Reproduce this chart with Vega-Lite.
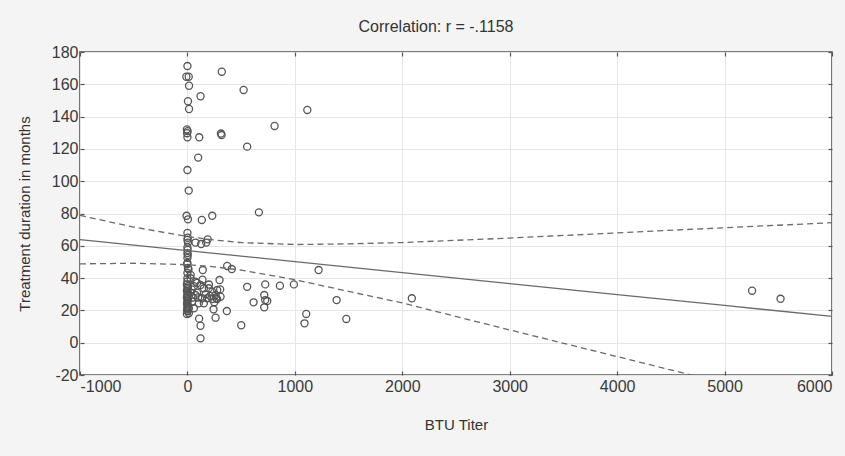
{
  "$schema": "https://vega.github.io/schema/vega-lite/v6.json",
  "width": 752,
  "height": 323,
  "autosize": {"type": "none"},
  "padding": {"left": 80, "top": 52, "right": 13, "bottom": 81},
  "background": "#f4f4f4",
  "title": {
    "text": "Correlation: r = -.1158",
    "font": "Liberation Sans",
    "fontSize": 16,
    "fontWeight": "normal",
    "color": "#333333",
    "offset": 9,
    "dx": -20
  },
  "config": {
    "view": {"fill": "#ffffff", "stroke": "#555555", "strokeWidth": 1.6},
    "axis": {
      "labelFont": "Liberation Sans",
      "titleFont": "Liberation Sans",
      "labelFontSize": 16,
      "titleFontSize": 15,
      "titleFontWeight": "normal",
      "labelColor": "#3a3a3a",
      "titleColor": "#333333",
      "labelExpr": "'' + datum.value",
      "domain": false,
      "tickColor": "#555555",
      "tickSize": -4,
      "tickWidth": 1.2,
      "gridColor": "#e6e6e6",
      "gridWidth": 1
    }
  },
  "datasets": {
    "titer": [
      {"btu": 0, "months": 171.3}, {"btu": 320, "months": 167.8}, {"btu": -10, "months": 164.7},
      {"btu": 12, "months": 164.7}, {"btu": 15, "months": 159.1}, {"btu": 523, "months": 156.5},
      {"btu": 122, "months": 152.6}, {"btu": 5, "months": 149.5}, {"btu": 15, "months": 144.7},
      {"btu": 1116, "months": 144.1}, {"btu": 811, "months": 134.2}, {"btu": -5, "months": 132.1},
      {"btu": 2, "months": 131}, {"btu": -3, "months": 129.7}, {"btu": 0, "months": 127.2},
      {"btu": 110, "months": 127.2}, {"btu": 312, "months": 129.5}, {"btu": 318, "months": 128.6},
      {"btu": 556, "months": 121.4}, {"btu": 100, "months": 114.6}, {"btu": 0, "months": 106.9},
      {"btu": 12, "months": 94.2}, {"btu": 665, "months": 80.7}, {"btu": -8, "months": 78.6},
      {"btu": 5, "months": 76.4}, {"btu": 134, "months": 76}, {"btu": 231, "months": 78.6},
      {"btu": 0, "months": 68}, {"btu": 3, "months": 65}, {"btu": 0, "months": 63.6},
      {"btu": 5, "months": 62}, {"btu": 0, "months": 59}, {"btu": 2, "months": 57.4},
      {"btu": 0, "months": 55.5}, {"btu": 3, "months": 54.3}, {"btu": 0, "months": 52.5},
      {"btu": 0, "months": 49.4}, {"btu": -3, "months": 48.6}, {"btu": 5, "months": 46.3},
      {"btu": 10, "months": 45.5}, {"btu": 0, "months": 43.2}, {"btu": 30, "months": 42},
      {"btu": 189, "months": 64}, {"btu": 175, "months": 62}, {"btu": 128, "months": 61.1},
      {"btu": 75, "months": 62}, {"btu": 143, "months": 45}, {"btu": 370, "months": 47.5},
      {"btu": 413, "months": 45.6}, {"btu": 1221, "months": 45}, {"btu": 299, "months": 38.8},
      {"btu": 556, "months": 34.6}, {"btu": 724, "months": 36.1}, {"btu": 861, "months": 35.3},
      {"btu": 991, "months": 36.1}, {"btu": 616, "months": 25}, {"btu": 715, "months": 29.5},
      {"btu": 724, "months": 26.4}, {"btu": 743, "months": 25.8}, {"btu": 715, "months": 21.9},
      {"btu": 1389, "months": 26.4}, {"btu": 243, "months": 20.7}, {"btu": 367, "months": 19.6},
      {"btu": 262, "months": 15.5}, {"btu": 109, "months": 14.9}, {"btu": 122, "months": 10.5},
      {"btu": 122, "months": 2.7}, {"btu": 501, "months": 10.8}, {"btu": 1106, "months": 17.8},
      {"btu": 1090, "months": 12}, {"btu": 1479, "months": 14.7}, {"btu": -5, "months": 17.8},
      {"btu": 2089, "months": 27.5}, {"btu": 5256, "months": 32.2}, {"btu": 5521, "months": 27.2},
      {"btu": 29, "months": 39.9}, {"btu": 75, "months": 37.8}, {"btu": 122, "months": 35.7},
      {"btu": 153, "months": 33.7}, {"btu": 199, "months": 33.7}, {"btu": 231, "months": 31.6},
      {"btu": 277, "months": 32.6}, {"btu": 262, "months": 29.5}, {"btu": 308, "months": 28.5},
      {"btu": 137, "months": 27.5}, {"btu": 184, "months": 27.5}, {"btu": 231, "months": 27},
      {"btu": 277, "months": 27}, {"btu": 75, "months": 29.5}, {"btu": 44, "months": 25.4},
      {"btu": 106, "months": 24.4}, {"btu": 153, "months": 24.4}, {"btu": 13, "months": 21.3},
      {"btu": 60, "months": 21.3}, {"btu": 13, "months": 18.2}, {"btu": 305, "months": 33},
      {"btu": 268, "months": 27.5}, {"btu": 0, "months": 40}, {"btu": 0, "months": 38},
      {"btu": -5, "months": 36}, {"btu": 5, "months": 35}, {"btu": 0, "months": 34},
      {"btu": 0, "months": 33}, {"btu": -5, "months": 32}, {"btu": 5, "months": 31},
      {"btu": 0, "months": 30}, {"btu": 0, "months": 29}, {"btu": -5, "months": 28},
      {"btu": 5, "months": 27}, {"btu": 0, "months": 26}, {"btu": 0, "months": 25},
      {"btu": -3, "months": 24}, {"btu": 3, "months": 23}, {"btu": 0, "months": 22},
      {"btu": 0, "months": 21}, {"btu": -3, "months": 20}, {"btu": 3, "months": 19.5},
      {"btu": 40, "months": 33}, {"btu": 60, "months": 35}, {"btu": 90, "months": 31},
      {"btu": 100, "months": 28}, {"btu": 170, "months": 30}, {"btu": 210, "months": 29},
      {"btu": 250, "months": 25}, {"btu": 50, "months": 28}, {"btu": 30, "months": 31},
      {"btu": 90, "months": 37}, {"btu": 140, "months": 39}, {"btu": 200, "months": 36}
    ],
    "fit": [
      {"btu": -1000, "fit": 63.8, "upper": 78.8, "lower": 48.8},
      {"btu": -500, "fit": 60.4, "upper": 71.6, "lower": 49.2},
      {"btu": 0, "fit": 57.0, "upper": 65.7, "lower": 48.3},
      {"btu": 250, "fit": 55.3, "upper": 63.6, "lower": 47.0},
      {"btu": 500, "fit": 53.6, "upper": 62.0, "lower": 44.9},
      {"btu": 1000, "fit": 50.2, "upper": 60.8, "lower": 39.0},
      {"btu": 1500, "fit": 46.8, "upper": 61.2, "lower": 31.8},
      {"btu": 2000, "fit": 43.4, "upper": 62.0, "lower": 24.6},
      {"btu": 3000, "fit": 36.6, "upper": 64.8, "lower": 7.9},
      {"btu": 4000, "fit": 29.8, "upper": 68.0, "lower": -8.6},
      {"btu": 5000, "fit": 23.05, "upper": 71.2, "lower": -25.1},
      {"btu": 6000, "fit": 16.3, "upper": 74.3, "lower": -41.7}
    ]
  },
  "layer": [
    {
      "data": {"name": "titer"},
      "mark": {"type": "point", "filled": false, "size": 50, "stroke": "#555555", "strokeWidth": 1.3, "opacity": 1},
      "encoding": {
        "x": {
          "field": "btu", "type": "quantitative",
          "scale": {"domain": [-1000, 6000], "nice": false, "zero": false},
          "axis": {"title": "BTU Titer", "values": [-1000, 0, 1000, 2000, 3000, 4000, 5000, 6000], "labelPadding": 7, "titlePadding": 23, "grid": true}
        },
        "y": {
          "field": "months", "type": "quantitative",
          "scale": {"domain": [-20, 180], "nice": false, "zero": false},
          "axis": {"title": "Treatment duration in months", "values": [-20, 0, 20, 40, 60, 80, 100, 120, 140, 160, 180], "labelPadding": 6, "titlePadding": 19, "grid": true}
        }
      }
    },
    {
      "data": {"name": "fit"},
      "mark": {"type": "line", "stroke": "#6a6a6a", "strokeWidth": 1.3},
      "encoding": {
        "x": {"field": "btu", "type": "quantitative", "axis": {"orient": "top", "labels": false, "title": null, "grid": false, "values": [-1000, 0, 1000, 2000, 3000, 4000, 5000, 6000]}},
        "y": {"field": "fit", "type": "quantitative", "axis": {"orient": "right", "labels": false, "title": null, "grid": false, "values": [-20, 0, 20, 40, 60, 80, 100, 120, 140, 160, 180]}}
      }
    },
    {
      "data": {"name": "fit"},
      "mark": {"type": "line", "stroke": "#6a6a6a", "strokeWidth": 1.3, "strokeDash": [6, 4], "clip": true},
      "encoding": {
        "x": {"field": "btu", "type": "quantitative", "axis": null},
        "y": {"field": "upper", "type": "quantitative", "axis": null}
      }
    },
    {
      "data": {"name": "fit"},
      "mark": {"type": "line", "stroke": "#6a6a6a", "strokeWidth": 1.3, "strokeDash": [6, 4], "clip": true},
      "encoding": {
        "x": {"field": "btu", "type": "quantitative", "axis": null},
        "y": {"field": "lower", "type": "quantitative", "axis": null}
      }
    }
  ],
  "resolve": {"axis": {"x": "independent", "y": "independent"}}
}
